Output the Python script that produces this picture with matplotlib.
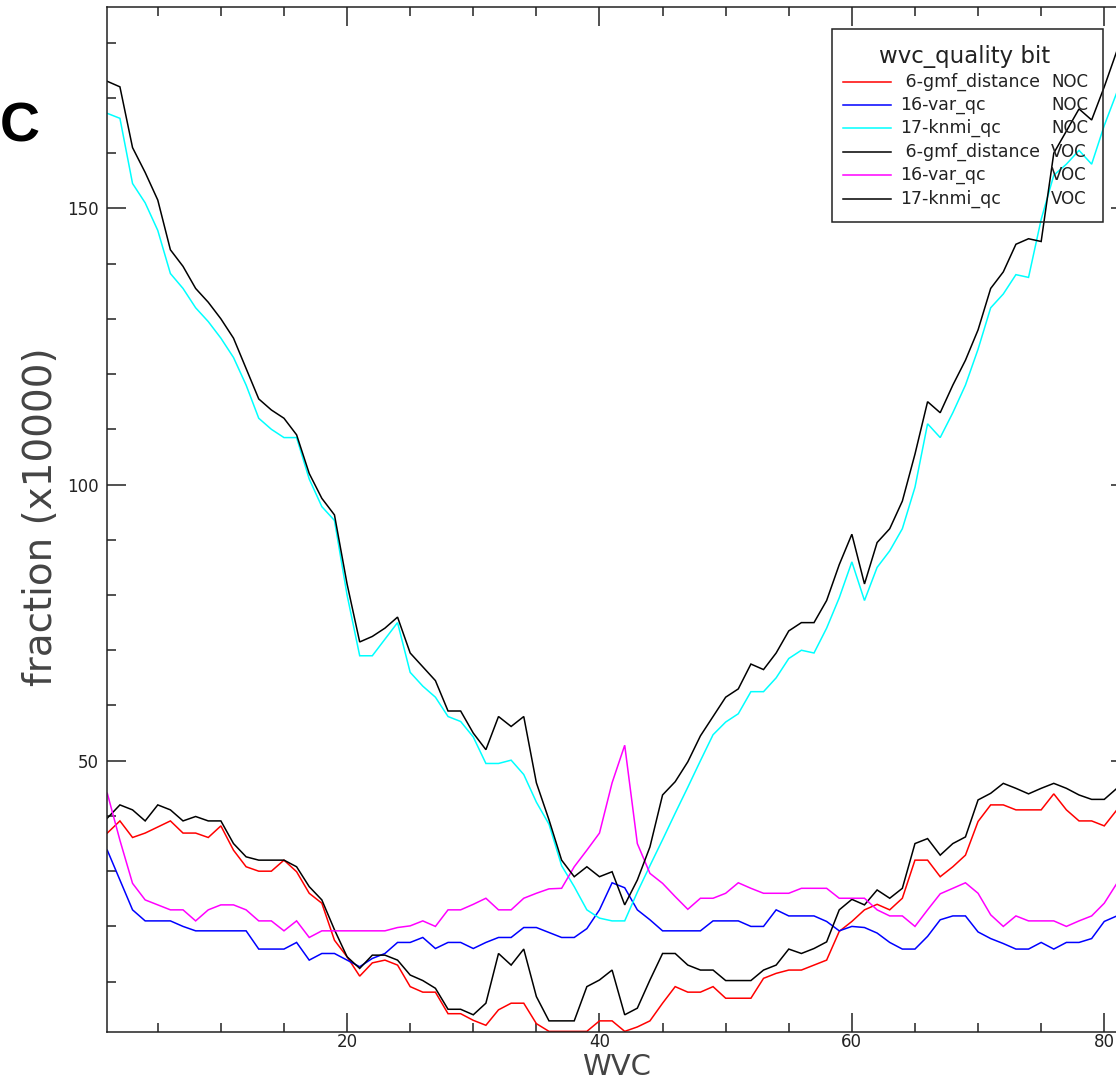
import matplotlib
matplotlib.use('Agg')
import matplotlib.pyplot as plt
from matplotlib.lines import Line2D
from matplotlib.patches import Rectangle
from matplotlib.ticker import MultipleLocator
import numpy as np

# -------------------- data: fraction (x10000) per WVC --------------------
wvc = np.arange(1, 82)

noc_gmf = [36.9, 39.1, 36.1, 36.9, 38.0, 39.1, 36.9, 36.9, 36.1, 38.2,
           33.8, 30.8, 30.0, 30.0, 32.0, 29.9, 26.0, 24.2, 17.5, 14.5,
           11.0, 13.4, 13.9, 13.0, 9.1, 8.1, 8.1, 4.2, 4.2, 3.0,
           2.1, 4.9, 6.1, 6.1, 2.4, 1.0, 1.0, 1.0, 1.0, 2.9,
           2.9, 1.0, 1.8, 2.9, 6.1, 9.1, 8.1, 8.1, 9.1, 7.0,
           7.0, 7.0, 10.6, 11.5, 12.1, 12.1, 13.0, 13.9, 19.1, 20.9,
           23.0, 24.0, 23.0, 25.1, 32.0, 32.0, 29.0, 30.8, 32.9, 39.0,
           42.0, 42.0, 41.1, 41.1, 41.1, 44.0, 41.1, 39.1, 39.1, 38.2, 41.1]

noc_var = [33.8, 28.4, 23.0, 21.0, 21.0, 21.0, 20.0, 19.2, 19.2, 19.2,
           19.2, 19.2, 15.9, 15.9, 15.9, 17.1, 13.9, 15.1, 15.1, 13.9,
           12.7, 14.2, 15.1, 17.1, 17.1, 18.0, 16.0, 17.1, 17.1, 16.0,
           17.1, 18.0, 18.0, 19.8, 19.8, 18.9, 18.0, 18.0, 19.6, 23.0,
           27.9, 27.0, 23.0, 21.2, 19.2, 19.2, 19.2, 19.2, 21.0, 21.0,
           21.0, 20.0, 20.0, 23.0, 21.9, 21.9, 21.9, 20.9, 19.2, 20.0,
           19.8, 18.8, 17.1, 15.9, 15.9, 18.2, 21.2, 21.9, 21.9, 19.0,
           17.8, 16.9, 15.9, 15.9, 17.1, 15.9, 17.1, 17.1, 17.8, 20.9, 21.9]

noc_knmi = [167.2, 166.3, 154.5, 151.0, 146.0, 138.2, 135.5, 132.0, 129.5, 126.5,
            123.0, 118.0, 112.0, 110.0, 108.5, 108.5, 101.0, 96.0, 93.5, 80.0,
            69.0, 69.0, 72.0, 75.0, 66.0, 63.5, 61.5, 58.0, 57.1, 54.3,
            49.5, 49.5, 50.1, 47.5, 42.5, 38.5, 31.0, 27.2, 23.0, 21.5,
            21.0, 21.0, 26.2, 31.0, 35.7, 40.5, 45.2, 50.0, 54.7, 57.0,
            58.5, 62.5, 62.5, 65.0, 68.5, 70.0, 69.5, 74.0, 79.5, 86.0,
            79.0, 85.0, 88.0, 92.0, 99.5, 111.0, 108.5, 113.0, 118.0, 124.5,
            132.0, 134.5, 138.0, 137.5, 148.0, 156.0, 158.0, 160.5, 158.0, 165.0, 171.0]

voc_gmf = [39.6, 42.0, 41.1, 39.1, 42.0, 41.1, 39.1, 39.9, 39.1, 39.1,
           35.0, 32.6, 32.0, 32.0, 32.0, 30.8, 27.2, 24.8, 19.4, 14.5,
           12.4, 14.8, 14.8, 13.9, 11.2, 10.2, 8.8, 5.0, 5.0, 4.0,
           6.1, 15.1, 13.0, 15.9, 7.3, 2.9, 2.9, 2.9, 9.1, 10.3,
           12.1, 4.0, 5.2, 10.3, 15.1, 15.1, 13.0, 12.1, 12.1, 10.2,
           10.2, 10.2, 12.1, 13.0, 15.9, 15.1, 16.0, 17.2, 23.0, 24.9,
           23.9, 26.6, 25.1, 26.9, 35.0, 35.9, 32.9, 35.0, 36.2, 42.9,
           44.1, 45.9, 45.0, 44.0, 45.0, 45.9, 45.0, 43.8, 43.0, 43.0, 45.0]

voc_var = [44.1, 35.6, 27.8, 24.8, 23.9, 23.0, 23.0, 21.0, 23.0, 23.9,
           23.9, 23.0, 21.0, 21.0, 19.2, 21.0, 18.0, 19.2, 19.2, 19.2,
           19.2, 19.2, 19.2, 19.8, 20.1, 21.0, 20.0, 23.0, 23.0, 24.0,
           25.1, 23.0, 23.0, 25.1, 26.0, 26.8, 26.9, 30.8, 33.8, 36.9,
           46.0, 52.8, 35.0, 29.6, 27.8, 25.4, 23.1, 25.1, 25.1, 26.0,
           27.9, 26.9, 26.0, 26.0, 26.0, 26.9, 26.9, 26.9, 25.1, 25.1,
           25.1, 23.0, 21.9, 21.9, 20.0, 23.0, 25.9, 26.9, 27.9, 26.0,
           22.1, 20.0, 21.9, 21.0, 21.0, 21.0, 20.0, 21.0, 21.9, 24.2, 27.8]

voc_knmi = [173.0, 172.0, 161.0, 156.5, 151.5, 142.5, 139.5, 135.5, 133.0, 130.0,
            126.5, 121.0, 115.5, 113.5, 112.0, 109.0, 102.0, 97.5, 94.5, 82.0,
            71.5, 72.5, 74.0, 76.0, 69.5, 67.0, 64.5, 59.0, 59.0, 55.0,
            52.0, 58.0, 56.2, 58.0, 46.0, 39.3, 32.0, 29.0, 30.8, 29.0,
            29.9, 23.9, 28.4, 34.4, 43.8, 46.2, 49.8, 54.5, 58.0, 61.5,
            63.0, 67.5, 66.5, 69.5, 73.5, 75.0, 75.0, 79.0, 85.5, 91.0,
            82.0, 89.5, 92.0, 97.0, 105.5, 115.0, 113.0, 118.0, 122.5, 128.0,
            135.5, 138.5, 143.5, 144.5, 144.0, 160.0, 164.0, 168.0, 166.0, 172.0, 178.5]

series = [noc_gmf, noc_var, noc_knmi, voc_gmf, voc_var, voc_knmi]
bit_names = [' 6-gmf_distance', '16-var_qc', '17-knmi_qc',
             ' 6-gmf_distance', '16-var_qc', '17-knmi_qc']
flags = ['NOC', 'NOC', 'NOC', 'VOC', 'VOC', 'VOC']
colors = ['#ff0000', '#0000ff', '#00ffff', '#000000', '#ff00ff', '#000000']

# -------------------- figure --------------------
W, H = 1116, 1080
fig = plt.figure(figsize=(W / 100, H / 100), dpi=100)


def fx(px):
    return px / W


def fy(py):
    return 1 - py / H


# axes run slightly past the right edge, so the right frame is not shown
ax = fig.add_axes([fx(107.3), fy(1031.7), fx(1129.5) - fx(107.3), fy(7.3) - fy(1031.7)])
for y, c in zip(series, colors):
    ax.plot(wvc, y, color=c, lw=1.1, solid_joinstyle='miter')

ax.set_xlim(1, 82)
ax.set_ylim(0.94, 186.4)
ax.xaxis.set_major_locator(MultipleLocator(20))
ax.xaxis.set_minor_locator(MultipleLocator(5))
ax.yaxis.set_major_locator(MultipleLocator(50))
ax.yaxis.set_minor_locator(MultipleLocator(10))
ax.tick_params(which='both', direction='in', top=True, right=True,
               width=1.1, color='#222222', labelcolor='#222222', labelsize=12)
ax.tick_params(which='major', length=13.5)
ax.tick_params(which='minor', length=6.5)
ax.tick_params(axis='x', pad=1)
ax.tick_params(axis='y', pad=6)
for s in ax.spines.values():
    s.set_linewidth(1.1)
    s.set_color('#222222')

fig.text(fx(617), fy(1067), 'WVC', ha='center', va='center',
         fontsize=21, color='#444444')
fig.text(fx(41), fy(517), 'fraction (x10000)', ha='center', va='center',
         rotation=90, fontsize=28, color='#444444')
fig.text(fx(0), fy(127), 'C', ha='left', va='center',
         fontsize=40, fontweight='bold', family='Liberation Sans')

# -------------------- legend box --------------------
fig.patches.append(Rectangle((fx(831.7), fy(222)), fx(1103.3) - fx(831.7), fy(29.3) - fy(222),
                             transform=fig.transFigure, fill=False,
                             edgecolor='#222222', lw=1.1))
fig.text(fx(965), fy(57), 'wvc_quality bit', ha='center', va='center',
         fontsize=16.5, color='#222222')
row_y = [81.7, 105, 128.3, 151.7, 175, 199]
for yy, name, flag, c in zip(row_y, bit_names, flags, colors):
    fig.lines.append(Line2D([fx(843), fx(891)], [fy(yy), fy(yy)],
                            transform=fig.transFigure, color=c, lw=1.1))
    fig.text(fx(900), fy(yy), name, ha='left', va='center',
             fontsize=12.5, color='#222222')
    fig.text(fx(1051), fy(yy), flag, ha='left', va='center',
             fontsize=12, color='#222222')

fig.savefig('out.png', dpi=100)
